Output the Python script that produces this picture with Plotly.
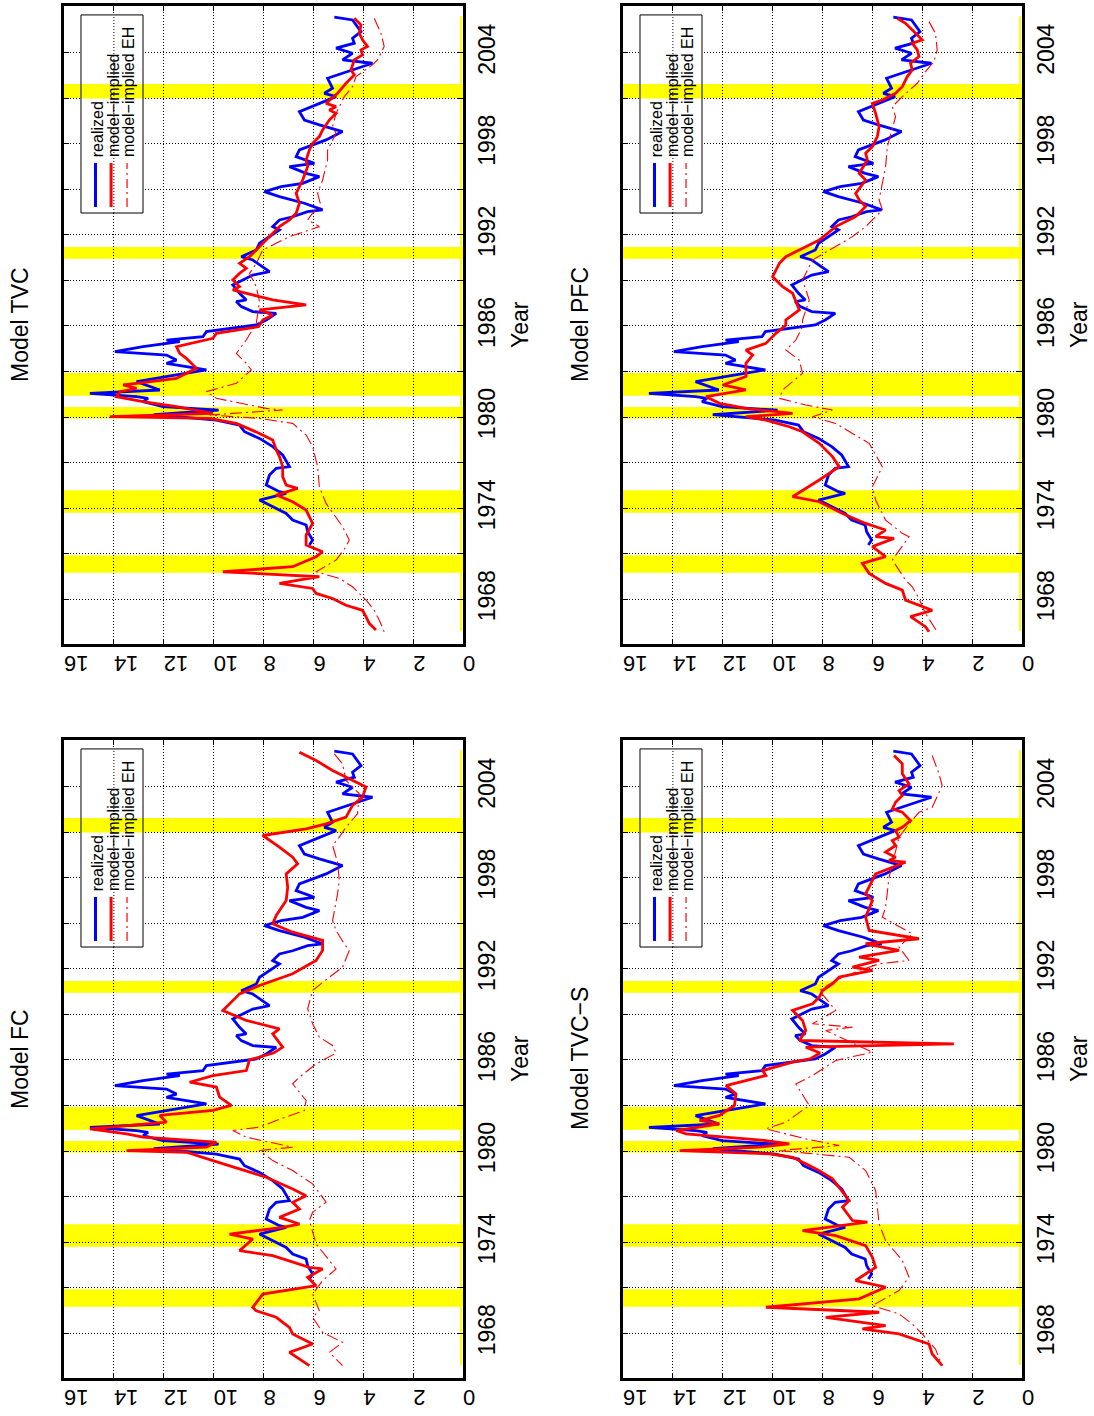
import plotly.graph_objects as go

W, H = 1094, 1416
FONT = "Liberation Sans"

# ---------------- data ----------------
# realized yields (same in all panels)
real_year = [2006.33, 2006.15, 2005.38, 2004.95, 2004.62, 2004.29, 2003.96, 2003.52, 2003.30, 2002.86,
             2002.53, 2002.31, 2001.65, 2001.32, 2001.10, 2000.44, 2000.11, 1999.56, 1999.24, 1998.80,
             1998.25, 1997.59, 1997.15, 1996.71, 1996.49, 1996.05, 1995.83, 1995.39, 1995.17, 1994.84,
             1994.51, 1994.08, 1993.64, 1993.53, 1993.19, 1992.98, 1992.54, 1992.32, 1991.44, 1991.00,
             1990.56, 1990.34, 1989.57, 1989.35, 1988.70, 1988.15, 1987.71, 1987.60, 1987.27, 1986.94,
             1986.83, 1986.39, 1986.06, 1985.62, 1985.29, 1985.07, 1984.96, 1984.63, 1984.30, 1984.08,
             1983.75, 1983.54, 1983.10, 1982.77, 1982.33, 1981.78, 1981.56, 1981.34, 1981.23, 1981.01,
             1980.68, 1980.45, 1980.15, 1979.80, 1979.47, 1979.03, 1978.59, 1978.05, 1977.50, 1976.73,
             1976.62, 1976.18, 1975.52, 1975.08, 1974.97, 1974.53, 1973.65, 1973.21, 1972.89, 1972.45,
             1971.90, 1971.57]
real_val = [5.16, 4.43, 4.09, 4.43, 4.36, 5.09, 4.43, 4.83, 3.63, 4.43,
            5.09, 5.43, 5.23, 5.56, 5.09, 6.03, 6.56, 6.36, 5.76, 4.83,
            5.49, 6.56, 6.69, 5.96, 6.96, 6.29, 5.76, 6.43, 7.29, 7.96,
            7.36, 6.36, 5.63, 6.23, 6.83, 7.36, 7.63, 7.36, 8.16, 8.29,
            8.89, 8.43, 7.76, 8.43, 9.23, 8.96, 8.69, 9.09, 8.89, 8.43,
            7.49, 7.89, 8.29, 10.29, 10.43, 11.89, 11.36, 12.83, 13.96, 11.89,
            11.49, 11.89, 10.29, 11.49, 13.09, 12.16, 14.96, 13.09, 12.63, 12.83,
            12.03, 9.80, 12.40, 9.89, 8.96, 8.76, 8.16, 7.63, 7.23, 6.96,
            7.49, 7.76, 7.89, 7.36, 7.09, 8.16, 7.09, 6.83, 6.29, 6.23,
            6.03, 6.16]

# Model TVC
tvc_year = [2006.26, 2005.82, 2005.27, 2004.84, 2004.40, 2004.18, 2003.85, 2003.52, 2002.86, 2002.53,
            2001.98, 2001.32, 2000.66, 2000.44, 2000.22, 2000.00, 1999.56, 1998.91, 1998.47, 1998.03,
            1997.59, 1996.93, 1996.49, 1995.61, 1994.73, 1994.08, 1993.42, 1992.98, 1992.54, 1992.10,
            1991.66, 1991.00, 1990.56, 1990.12, 1989.79, 1989.46, 1989.03, 1988.59, 1988.37, 1987.93,
            1987.71, 1987.38, 1987.05, 1986.72, 1986.39, 1985.95, 1985.51, 1985.18, 1984.63, 1984.19,
            1983.86, 1983.21, 1982.55, 1982.22, 1982.11, 1981.89, 1981.67, 1981.34, 1981.01, 1980.68,
            1980.24, 1980.02, 1979.91, 1979.58, 1978.92, 1978.48, 1977.83, 1977.39, 1976.73, 1976.07,
            1975.52, 1975.30, 1974.86, 1974.42, 1973.87, 1972.99, 1972.23, 1971.57, 1971.13, 1970.80,
            1970.14, 1969.81, 1969.48, 1969.04, 1968.71, 1968.38, 1968.05, 1967.60, 1967.27, 1966.85,
            1966.41, 1965.97]
tvc_val = [4.36, 4.09, 4.16, 4.03, 3.83, 4.09, 4.03, 4.36, 4.49, 4.36,
           4.69, 5.03, 5.49, 5.09, 5.36, 5.09, 5.36, 5.63, 5.76, 6.03,
           6.16, 6.29, 6.23, 6.43, 6.69, 6.56, 6.69, 6.96, 7.36, 7.63,
           7.89, 8.29, 8.56, 8.96, 8.69, 8.96, 9.23, 8.96, 9.23, 8.16,
           7.63, 6.29, 8.16, 7.63, 8.03, 8.20, 9.89, 10.03, 11.49, 11.36,
           11.09, 10.69, 11.49, 13.09, 13.63, 13.09, 13.76, 13.89, 12.83, 11.49,
           10.03, 14.16, 10.16, 9.09, 8.16, 7.63, 7.49, 7.36, 7.23, 7.23,
           7.09, 6.63, 7.49, 6.83, 6.29, 6.03, 6.29, 6.29, 5.63, 5.89,
           6.83, 9.63, 5.76, 7.36, 6.03, 5.89, 5.23, 4.69, 4.03, 3.89,
           3.76, 3.49]
tvc_eh_year = [2006.26, 2005.27, 2004.40, 2003.52, 2003.19, 2002.42, 2001.76, 2001.10, 2000.00, 1999.13,
               1998.69, 1997.59, 1996.93, 1995.61, 1994.73, 1993.86, 1993.42, 1992.98, 1992.54, 1991.88,
               1991.00, 1990.12, 1989.46, 1988.59, 1987.60, 1986.17, 1985.07, 1984.19, 1983.54, 1983.10,
               1982.22, 1981.67, 1981.23, 1980.90, 1980.57, 1980.46, 1980.13, 1979.91, 1979.58, 1978.81,
               1978.05, 1976.73, 1975.41, 1974.31, 1972.78, 1971.90, 1971.46, 1970.58, 1969.81, 1969.37,
               1968.82, 1968.38, 1967.95, 1967.27, 1966.63, 1965.86]
tvc_eh_val = [3.56, 3.29, 3.16, 3.43, 3.63, 4.29, 4.43, 4.76, 5.09, 5.23,
              5.09, 5.43, 5.43, 5.63, 5.83, 5.69, 6.03, 6.23, 5.76, 6.96,
              8.03, 8.29, 8.56, 8.29, 8.16, 8.29, 8.69, 9.09, 8.69, 8.49,
              9.09, 10.29, 9.89, 8.96, 7.89, 7.23, 10.16, 8.16, 6.83, 6.29,
              6.03, 5.83, 5.76, 5.49, 4.83, 4.56, 4.69, 5.09, 5.89, 4.96,
              4.43, 4.16, 3.89, 3.56, 3.36, 3.16]

# Model PFC
pfc_year = [2006.26, 2005.93, 2005.49, 2004.84, 2004.62, 2004.18, 2003.74, 2003.30, 2002.86, 2002.42,
            2001.76, 2001.32, 2000.88, 2000.66, 2000.00, 1999.13, 1998.47, 1997.81, 1997.37, 1996.93,
            1996.05, 1995.61, 1994.73, 1994.30, 1993.86, 1993.20, 1992.54, 1991.66, 1991.22, 1991.00,
            1990.56, 1990.12, 1989.24, 1988.59, 1988.15, 1987.05, 1986.39, 1986.06, 1985.51, 1984.85,
            1984.41, 1984.08, 1983.54, 1982.66, 1982.11, 1981.78, 1981.34, 1980.90, 1980.57, 1980.24,
            1980.02, 1979.80, 1979.36, 1979.03, 1978.27, 1977.39, 1976.73, 1975.85, 1974.75, 1974.42,
            1973.65, 1972.99, 1972.56, 1972.12, 1972.01, 1971.46, 1970.80, 1970.36, 1969.70, 1969.04,
            1968.60, 1967.94, 1967.27, 1966.85, 1966.19, 1965.86]
pfc_val = [5.00, 4.67, 4.40, 4.00, 4.40, 4.20, 4.13, 4.47, 4.40, 4.60,
           4.80, 5.07, 5.60, 6.00, 5.87, 5.73, 5.80, 6.00, 6.27, 6.20,
           6.53, 6.27, 6.67, 6.53, 6.27, 6.67, 7.47, 8.13, 8.67, 8.93,
           9.47, 9.73, 10.00, 9.60, 9.20, 8.93, 9.47, 9.47, 9.87, 10.27,
           11.07, 10.80, 11.07, 11.07, 12.00, 11.07, 12.67, 12.13, 11.07, 9.20,
           11.07, 10.27, 9.33, 8.80, 8.13, 7.60, 7.33, 8.13, 9.20, 8.13,
           7.20, 6.27, 5.47, 5.87, 5.13, 6.00, 5.47, 6.40, 6.13, 5.47,
           4.80, 4.67, 3.60, 4.47, 3.87, 3.73]
pfc_eh_year = [2006.04, 2005.27, 2004.18, 2003.41, 2002.75, 2001.98, 2001.10, 2000.44, 1999.78, 1997.81,
               1996.49, 1995.50, 1994.30, 1993.64, 1992.54, 1991.88, 1991.00, 1990.34, 1989.03, 1987.71,
               1986.39, 1985.95, 1985.07, 1984.41, 1983.75, 1982.88, 1981.78, 1981.23, 1980.79, 1980.46,
               1980.02, 1979.58, 1978.92, 1978.27, 1976.73, 1975.41, 1974.53, 1973.21, 1972.34, 1972.12,
               1970.58, 1969.26, 1968.82, 1968.05, 1967.06, 1965.86]
pfc_eh_val = [3.73, 3.47, 3.40, 3.53, 3.87, 4.20, 4.80, 5.20, 5.07, 5.40,
              5.47, 5.60, 5.73, 5.60, 6.27, 6.80, 7.73, 8.40, 8.80, 8.53,
              8.80, 8.80, 9.07, 9.47, 8.93, 8.80, 9.60, 9.73, 8.67, 7.60,
              8.40, 7.47, 6.80, 6.13, 5.60, 6.00, 5.87, 5.47, 4.80, 4.53,
              5.20, 4.67, 4.40, 4.13, 3.87, 3.40]

# Model FC
fc_year = [2006.27, 2005.72, 2005.06, 2004.41, 2003.97, 2003.31, 2002.76, 2001.99, 2001.55, 2001.22,
           2000.78, 2000.01, 1999.35, 1998.91, 1998.25, 1997.37, 1996.50, 1995.51, 1994.96, 1994.41,
           1993.87, 1993.21, 1992.55, 1991.67, 1990.90, 1990.35, 1989.25, 1988.60, 1988.05, 1987.72,
           1986.84, 1986.45, 1986.00, 1985.30, 1984.97, 1984.53, 1984.21, 1983.55, 1983.00, 1982.67,
           1982.34, 1981.90, 1981.68, 1981.46, 1981.13, 1980.91, 1980.58, 1980.25, 1980.03, 1979.92,
           1979.37, 1978.71, 1978.27, 1977.50, 1977.06, 1976.62, 1976.18, 1975.63, 1975.19, 1974.97,
           1974.53, 1974.20, 1973.44, 1973.11, 1972.34, 1972.23, 1971.68, 1971.13, 1970.58, 1969.70,
           1969.48, 1969.05, 1968.39, 1967.95, 1967.29, 1966.74, 1966.30, 1965.86]
fc_val = [6.56, 5.89, 5.23, 4.43, 3.89, 4.03, 4.43, 4.69, 5.49, 6.29,
          8.03, 7.36, 6.83, 6.63, 7.09, 7.03, 7.09, 7.49, 7.63, 6.83,
          5.63, 5.63, 5.89, 6.83, 8.16, 8.96, 9.63, 8.69, 7.36, 7.63,
          7.23, 7.60, 8.56, 8.69, 10.03, 10.96, 9.89, 9.76, 9.29, 10.03,
          12.16, 11.89, 13.49, 14.96, 13.49, 12.83, 9.89, 10.29, 13.49, 11.09,
          10.03, 8.69, 7.89, 6.83, 6.29, 6.83, 6.56, 7.36, 6.56, 7.23,
          9.36, 8.43, 8.96, 7.63, 6.16, 5.63, 6.23, 5.89, 8.03, 8.43,
          8.29, 7.49, 6.96, 6.83, 6.03, 6.96, 6.56, 6.16]
fc_eh_year = [2006.16, 2005.50, 2004.40, 2003.53, 2002.21, 2001.33, 2000.67, 2000.12, 1999.02, 1997.82,
              1996.94, 1995.18, 1994.52, 1993.64, 1993.21, 1992.11, 1991.45, 1990.57, 1989.37, 1988.38,
              1987.50, 1986.95, 1986.45, 1985.74, 1984.86, 1984.42, 1983.33, 1982.67, 1982.01, 1981.57,
              1981.35, 1980.91, 1980.25, 1980.03, 1979.37, 1978.71, 1977.84, 1976.63, 1975.97, 1975.42,
              1973.88, 1972.23, 1971.46, 1970.58, 1969.48, 1969.05, 1968.06, 1967.40, 1966.74, 1966.30,
              1965.86]
fc_eh_val = [5.16, 4.83, 4.69, 4.16, 4.23, 4.69, 4.96, 5.23, 5.03, 4.96,
             5.03, 5.23, 5.09, 4.76, 4.56, 4.83, 5.36, 6.03, 6.23, 6.03,
             5.76, 5.23, 5.09, 5.89, 6.56, 6.83, 6.29, 6.36, 7.49, 8.16,
             9.23, 8.69, 6.83, 8.16, 7.63, 6.83, 6.03, 5.49, 6.03, 6.16,
             5.89, 5.09, 5.63, 6.03, 5.76, 6.03, 5.63, 4.83, 5.36, 5.09,
             4.83]

# Model TVC-S
tvcs_year = [2006.05, 2005.50, 2004.84, 2004.18, 2003.74, 2003.41, 2002.97, 2002.53, 2002.31, 2001.76,
             2001.32, 2001.10, 2000.67, 2000.45, 2000.12, 1999.68, 1999.35, 1999.13, 1999.02, 1998.25,
             1997.82, 1996.94, 1996.50, 1995.40, 1994.53, 1993.98, 1993.65, 1993.21, 1992.77, 1992.55,
             1992.11, 1991.89, 1991.45, 1991.01, 1990.57, 1990.13, 1989.70, 1989.26, 1988.60, 1987.94,
             1987.28, 1987.06, 1986.84, 1986.45, 1986.07, 1985.85, 1985.30, 1984.97, 1984.31, 1983.76,
             1983.00, 1982.34, 1982.01, 1981.79, 1981.35, 1981.13, 1980.69, 1980.47, 1980.25, 1980.03,
             1979.81, 1979.59, 1979.04, 1978.71, 1978.17, 1977.62, 1976.74, 1976.30, 1975.42, 1975.31,
             1974.76, 1974.43, 1973.77, 1973.00, 1972.34, 1971.47, 1971.03, 1970.26, 1969.71, 1969.38,
             1969.05, 1968.50, 1968.28, 1967.95, 1967.51, 1967.29, 1966.63, 1965.86]
tvcs_val = [5.13, 4.80, 4.80, 4.53, 4.93, 4.80, 5.07, 5.20, 4.80, 4.47,
            4.80, 5.07, 4.93, 5.20, 5.07, 5.47, 5.07, 5.33, 4.67, 5.87,
            6.00, 6.27, 6.00, 6.27, 6.13, 4.13, 6.27, 4.93, 6.53, 5.73,
            6.80, 6.00, 7.33, 7.60, 8.00, 8.13, 8.40, 9.20, 8.80, 8.67,
            8.93, 2.73, 8.67, 8.10, 8.50, 9.20, 10.40, 10.27, 11.87, 11.47,
            11.53, 12.13, 12.93, 12.13, 13.87, 13.47, 10.27, 9.33, 10.53, 13.73,
            10.13, 9.20, 8.53, 8.13, 7.60, 7.33, 6.93, 7.20, 6.80, 6.20,
            8.80, 7.47, 6.27, 6.00, 5.87, 6.67, 5.47, 6.53, 10.27, 5.73,
            7.87, 5.47, 6.40, 4.93, 4.13, 3.73, 3.60, 3.20]
tvcs_eh_year = [2006.05, 2004.84, 2004.07, 2002.64, 2002.31, 2001.54, 2000.67, 1998.03, 1996.06, 1995.40,
                1994.31, 1993.43, 1992.55, 1992.33, 1991.89, 1991.23, 1990.57, 1989.26, 1988.38, 1988.16,
                1987.94, 1986.51, 1985.96, 1984.97, 1984.42, 1983.00, 1981.90, 1981.46, 1980.80, 1980.36,
                1980.03, 1979.59, 1978.71, 1977.40, 1975.20, 1974.10, 1972.79, 1971.69, 1970.81, 1969.82,
                1969.27, 1968.61, 1967.95, 1966.96, 1965.86]
tvcs_eh_val = [3.60, 3.33, 3.20, 3.60, 4.13, 4.53, 4.93, 5.33, 5.47, 5.60,
               4.40, 4.93, 4.53, 5.73, 6.53, 7.47, 8.13, 7.47, 8.40, 6.80,
               7.87, 6.00, 7.47, 8.40, 9.07, 8.53, 9.47, 10.27, 8.67, 7.33,
               9.73, 6.93, 6.27, 5.87, 5.73, 5.47, 4.80, 4.53, 4.93, 6.00,
               4.93, 4.40, 4.00, 3.47, 3.20]

# recession periods (yellow bands)
rec_start = [1969.75, 1973.70, 1979.90, 1981.40, 1990.42, 2000.97]
rec_end = [1970.90, 1975.18, 1980.66, 1982.90, 1991.20, 2001.93]

value_ticks = list(range(0, 17, 2))
year_ticks = list(range(1968, 2005, 3))
year_ticktext = [str(y) if (y - 1968) % 6 == 0 else "" for y in year_ticks]

legend_labels = ["realized", "model\u2212implied", "model\u2212implied EH"]

# ---------------- layout geometry (pixels) ----------------
panels = [
    dict(title="Model TVC", model=(tvc_year, tvc_val), eh=(tvc_eh_year, tvc_eh_val),
         px=(64, 463), py=(6, 644), tx=20, yx=520),
    dict(title="Model PFC", model=(pfc_year, pfc_val), eh=(pfc_eh_year, pfc_eh_val),
         px=(623, 1022), py=(6, 644), tx=580, yx=1079),
    dict(title="Model FC", model=(fc_year, fc_val), eh=(fc_eh_year, fc_eh_val),
         px=(64, 463), py=(740, 1378), tx=20, yx=520),
    dict(title="Model TVC\u2212S", model=(tvcs_year, tvcs_val), eh=(tvcs_eh_year, tvcs_eh_val),
         px=(623, 1022), py=(740, 1378), tx=580, yx=1079),
]

BLUE = "#0000FF"
RED = "#FF0000"
EH_DASH = "12px,4px,2px,4px"
GRID_DASH = "1px,2px"

fig = go.Figure()
shapes = []
annotations = []
layout_axes = {}

for i, p in enumerate(panels, start=1):
    xa = "x" if i == 1 else f"x{i}"
    ya = "y" if i == 1 else f"y{i}"
    xkey = "xaxis" if i == 1 else f"xaxis{i}"
    ykey = "yaxis" if i == 1 else f"yaxis{i}"

    fig.add_trace(go.Scatter(x=real_val, y=real_year, mode="lines", xaxis=xa, yaxis=ya,
                             line=dict(color=BLUE, width=2.8), showlegend=False, hoverinfo="skip"))
    fig.add_trace(go.Scatter(x=p["model"][1], y=p["model"][0], mode="lines", xaxis=xa, yaxis=ya,
                             line=dict(color=RED, width=2.8), showlegend=False, hoverinfo="skip"))
    fig.add_trace(go.Scatter(x=p["eh"][1], y=p["eh"][0], mode="lines", xaxis=xa, yaxis=ya,
                             line=dict(color=RED, width=1.1, dash=EH_DASH), showlegend=False,
                             hoverinfo="skip"))

    x0, x1 = p["px"]
    y0, y1 = p["py"]
    layout_axes[xkey] = dict(
        domain=[x0 / W, x1 / W], anchor=ya, range=[16, 0], tickvals=value_ticks,
        tickangle=180, ticks="inside", ticklen=5, tickcolor="black", tickwidth=1,
        showline=True, linewidth=2.5, linecolor="black", mirror="ticks",
        showgrid=True, gridcolor="black", griddash=GRID_DASH, gridwidth=1, zeroline=False,
        tickfont=dict(family=FONT, size=22, color="black"), ticklabelstandoff=5,
        automargin=False,
    )
    layout_axes[ykey] = dict(
        domain=[1 - y1 / H, 1 - y0 / H], anchor=xa, side="right", range=[1965.05, 2007.07],
        tickvals=year_ticks, ticktext=year_ticktext, tickangle=-90,
        ticks="inside", ticklen=5, tickcolor="black", tickwidth=1,
        showline=True, linewidth=2.5, linecolor="black", mirror="ticks",
        showgrid=True, gridcolor="black", griddash=GRID_DASH, gridwidth=1, zeroline=False,
        tickfont=dict(family=FONT, size=23, color="black"), ticklabelstandoff=2,
        automargin=False,
    )

    # recession bands
    for s, e in zip(rec_start, rec_end):
        shapes.append(dict(type="rect", xref=f"{xa} domain", yref=ya, x0=0, x1=1, y0=s, y1=e,
                           fillcolor="#FFFF00", line=dict(width=0), layer="below"))
    # thin yellow baseline at zero
    shapes.append(dict(type="line", xref=xa, yref=ya, x0=0.08, x1=0.08, y0=1965.9, y1=2006.4,
                       line=dict(color="#FFFF00", width=2), layer="below"))

    # legend box (drawn manually, rotated)
    lx0, lx1, ly0, ly1 = 0.0426, 0.198, 0.6755, 0.986
    shapes.append(dict(type="rect", xref=f"{xa} domain", yref=f"{ya} domain",
                       x0=lx0, x1=lx1, y0=ly0, y1=ly1, fillcolor="white",
                       line=dict(width=0), layer="above"))
    for s, e in zip(rec_start, rec_end):
        if s > 1994:
            shapes.append(dict(type="rect", xref=f"{xa} domain", yref=ya, x0=lx0, x1=lx1,
                               y0=s, y1=e, fillcolor="#FFFF00", line=dict(width=0),
                               layer="above"))
    shapes.append(dict(type="line", xref=xa, yref=f"{ya} domain", x0=14, x1=14, y0=ly0, y1=ly1,
                       line=dict(color="black", width=1, dash=GRID_DASH), layer="above"))
    shapes.append(dict(type="rect", xref=f"{xa} domain", yref=f"{ya} domain",
                       x0=lx0, x1=lx1, y0=ly0, y1=ly1, line=dict(color="black", width=1),
                       fillcolor="rgba(0,0,0,0)", layer="above"))
    samp = [(0.079, dict(color=BLUE, width=3)),
            (0.118, dict(color=RED, width=3)),
            (0.158, dict(color=RED, width=1.2, dash="9px,4px,2px,4px"))]
    for sx, ln in samp:
        shapes.append(dict(type="line", xref=f"{xa} domain", yref=f"{ya} domain",
                           x0=sx, x1=sx, y0=0.685, y1=0.754, line=ln, layer="above"))
    for tx, lab in zip([0.083, 0.1228, 0.160], legend_labels):
        annotations.append(dict(xref=f"{xa} domain", yref=f"{ya} domain", x=tx, y=0.76,
                                text=lab, showarrow=False, textangle=-90,
                                xanchor="center", yanchor="bottom",
                                font=dict(family=FONT, size=16, color="black")))

    # panel title and axis title (centred on the panel)
    yc = 1 - (y0 + y1) / 2 / H
    annotations.append(dict(xref="paper", yref="paper", x=p["tx"] / W, y=yc,
                            text=p["title"], showarrow=False, textangle=-90,
                            xanchor="center", yanchor="middle",
                            font=dict(family=FONT, size=23, color="black")))
    annotations.append(dict(xref="paper", yref="paper", x=p["yx"] / W, y=yc,
                            text="Year", showarrow=False, textangle=-90,
                            xanchor="center", yanchor="middle",
                            font=dict(family=FONT, size=23, color="black")))

fig.update_layout(
    width=W, height=H, margin=dict(l=0, r=0, t=0, b=0, autoexpand=False),
    paper_bgcolor="white", plot_bgcolor="white",
    showlegend=False, shapes=shapes, annotations=annotations,
    font=dict(family=FONT, color="black"),
    **layout_axes,
)

fig.write_html("out.html")
